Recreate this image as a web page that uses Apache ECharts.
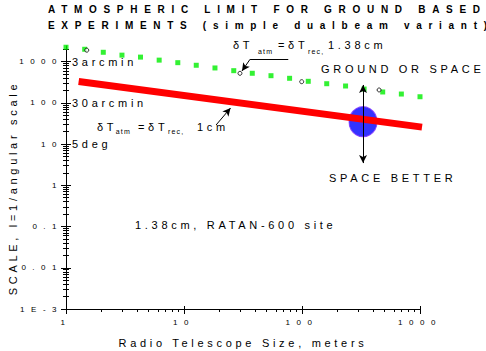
<!DOCTYPE html>
<html>
<head>
<meta charset="utf-8">
<script src="https://cdn.jsdelivr.net/npm/echarts@6/dist/echarts.min.js"></script>
<style>
  html, body { margin: 0; padding: 0; background: #fff; }
  #chart { width: 486px; height: 351px; }
  /* the old plot spreads every letter out */
  #chart text[style*="11px"] { letter-spacing: 3.7px; }
  #chart text[style*="bold"] { letter-spacing: 6.7px; }
  #chart text[style*="8px"] { letter-spacing: 6.5px; }
  #chart text[style*="7px"] { letter-spacing: 1.2px; }
</style>
</head>
<body>
<div id="chart"></div>
<script>
// telescope size (m) and atmospheric limit at 1.38cm (green squares)
const sizes = [1, 1.44, 2.07, 2.98, 4.28, 6.16, 8.86, 12.7, 18.3, 26.4, 37.9, 54.6, 78.5, 113, 162, 234, 336, 483, 695, 1000];
const limit138 = [2240, 2000, 1690, 1440, 1290, 1090, 946, 818, 704, 605, 523, 457, 395, 334, 292, 257, 217, 184, 164, 141];
// limit at 1cm (red band)
const size1cm = [1.28, 1040];
const limit1cm = [330, 25.8];
// small open circles
const circleSize = [1.5, 29.8, 99.4, 450];
const circleScale = [1900, 522, 327, 206];
// RATAN-600 point
const ratanSize = [329];
const ratanScale = [35];

const decadeTicks = [0.001, 0.01, 0.1, 1, 10, 100, 1000];
const yTickLabels = ['1E-3', '0.01', '0.1', '1', '10', '100', '1000'];
const scaleMarks = [1000, 100, 10];
const scaleMarkLabels = ['3arcmin', '30arcmin', '5deg'];
const xTicks = [1, 10, 100, 1000];
const xTickLabels = ['1', '10', '100', '1000'];

const yMinor = [];
for (let k = -3; k <= 3; k++) {
  for (let m = 2; m <= 9; m++) {
    const v = m * Math.pow(10, k);
    if (v < 2400) yMinor.push(v);
  }
}
const xMinor = [];
for (let k = 0; k <= 2; k++) {
  for (let m = 2; m <= 9; m++) xMinor.push(m * Math.pow(10, k));
}

const FONT = '"Liberation Sans", Arial, sans-serif';

function pick(values, labels) {
  return function (v) {
    for (let i = 0; i < values.length; i++) {
      if (Math.abs(Math.log10(v) - Math.log10(values[i])) < 1e-6) return labels[i];
    }
    return '';
  };
}

function yAxisOf(extra) {
  return Object.assign({
    type: 'log', min: 0.001, max: 2400, position: 'left', offset: 0,
    axisLine: { show: false },
    axisLabel: { show: false },
    splitLine: { show: false },
    minorTick: { show: false }
  }, extra);
}
function xAxisOf(extra) {
  return Object.assign({
    type: 'log', min: 1, max: 1000, position: 'bottom', offset: 0,
    axisLine: { show: false },
    axisLabel: { show: false },
    splitLine: { show: false },
    minorTick: { show: false }
  }, extra);
}

function txt(text, x, y, size, align, rotation) {
  return {
    type: 'text', x: x, y: y, rotation: rotation || 0, silent: true,
    style: {
      text: text, fill: '#000', font: size + 'px ' + FONT,
      align: align || 'left', verticalAlign: 'middle',
      textAlign: align || 'left', textVerticalAlign: 'middle'
    }
  };
}

let chart = echarts.init(document.getElementById('chart'), null, { renderer: 'svg' });
chart.setOption({
  animation: false,
  backgroundColor: '#fff',
  title: {
    text: 'ATMOSPHERIC LIMIT FOR GROUND BASED\nEXPERIMENTS (simple dualbeam variant)',
    left: 48,
    top: 2,
    padding: 0,
    textStyle: { fontSize: 10, fontWeight: 'bold', fontFamily: FONT, color: '#000', lineHeight: 15.5 }
  },
  grid: { left: 66, right: 66, top: 46, bottom: 42, containLabel: false, outerBoundsMode: 'none' },
  xAxis: [
    xAxisOf({
      axisLine: { show: true, lineStyle: { color: '#000', width: 1 } },
      axisTick: { show: true, inside: false, length: 5, customValues: xTicks, lineStyle: { color: '#000' } },
      axisLabel: {
        show: true, customValues: xTicks, formatter: pick(xTicks, xTickLabels),
        fontSize: 8, fontFamily: FONT, color: '#000', margin: 9
      },
      name: 'Radio Telescope Size, meters',
      nameLocation: 'middle',
      nameGap: 28,
      nameTextStyle: { fontSize: 11, fontFamily: FONT, color: '#000' }
    }),
    xAxisOf({ axisTick: { show: true, inside: true, length: 3, customValues: xTicks, lineStyle: { color: '#000' } } }),
    xAxisOf({ axisTick: { show: true, inside: false, length: 3, customValues: xMinor, lineStyle: { color: '#000' } } })
  ],
  yAxis: [
    yAxisOf({
      axisLine: { show: true, lineStyle: { color: '#000', width: 1 } },
      axisTick: { show: true, inside: false, length: 5, customValues: decadeTicks, lineStyle: { color: '#000' } },
      axisLabel: {
        show: true, customValues: decadeTicks, formatter: pick(decadeTicks, yTickLabels),
        fontSize: 8, fontFamily: FONT, color: '#000', margin: 3
      }
    }),
    yAxisOf({
      axisTick: { show: true, inside: true, length: 5, customValues: decadeTicks, lineStyle: { color: '#000' } },
      axisLabel: {
        show: true, inside: true, customValues: scaleMarks, formatter: pick(scaleMarks, scaleMarkLabels),
        fontSize: 11, fontFamily: FONT, color: '#000', margin: 6
      }
    }),
    yAxisOf({ axisTick: { show: true, inside: false, length: 3, customValues: yMinor, lineStyle: { color: '#000' } } }),
    yAxisOf({ axisTick: { show: true, inside: true, length: 3, customValues: yMinor, lineStyle: { color: '#000' } } })
  ],
  series: [
    {
      name: 'limit 1.38cm',
      type: 'scatter',
      data: sizes.map((s, i) => [s, limit138[i]]),
      symbol: 'rect',
      symbolSize: 5,
      itemStyle: { color: '#00ee00' },
      silent: true
    },
    {
      name: 'RATAN-600',
      type: 'scatter',
      data: ratanSize.map((s, i) => [s, ratanScale[i]]),
      symbol: 'circle',
      symbolSize: [28, 30],
      itemStyle: { color: '#0000ff', borderColor: '#7a2cff', borderWidth: 1 },
      silent: true
    },
    {
      name: 'limit 1cm',
      type: 'line',
      data: size1cm.map((s, i) => [s, limit1cm[i]]),
      symbol: 'none',
      showSymbol: false,
      clip: false,
      lineStyle: { color: '#ff0000', width: 7, cap: 'butt' },
      silent: true
    },
    {
      name: 'marks',
      type: 'scatter',
      data: circleSize.map((s, i) => [s, circleScale[i]]),
      symbol: 'circle',
      symbolSize: 4,
      itemStyle: { color: '#fff', borderColor: '#000', borderWidth: 1 },
      silent: true,
      markLine: {
        silent: true,
        animation: false,
        symbolSize: [6, 8],
        label: { show: false },
        lineStyle: { color: '#000', width: 1, type: 'solid' },
        emphasis: { disabled: true },
        data: [
          [{ coord: [329, 272], symbol: 'arrow' }, { coord: [329, 3.47], symbol: 'arrow' }],
          [{ coord: [76.5, 1143], symbol: 'none' }, { coord: [36.3, 1143], symbol: 'none' }],
          [{ coord: [36.3, 1143], symbol: 'none' }, { coord: [31, 594], symbol: 'arrow' }],
          [{ coord: [18.7, 29.1], symbol: 'none' }, { coord: [24.8, 75.1], symbol: 'arrow' }]
        ]
      }
    }
  ],
  graphic: [
    txt('SCALE, l=1/angular scale', 13, 188, 11, 'center', Math.PI / 2),
    txt('GROUND OR SPACE', 321, 69, 11),
    txt('SPACE BETTER', 329, 178, 11),
    txt('1.38cm, RATAN-600 site', 135, 225, 11),
    txt('δT', 233, 45, 11),
    txt('atm', 258, 51, 7),
    txt('=δT', 278, 45, 11),
    txt('rec,', 308, 51, 7),
    txt('1.38cm', 328, 45, 11),
    txt('δT', 97, 127, 11),
    txt('atm', 115.7, 131, 7),
    txt('=δT', 138, 127, 11),
    txt('rec,', 168, 131, 7),
    txt('1cm', 197, 127, 11)
  ]
});
window.addEventListener('resize', () => { chart.resize(); });
</script>
</body>
</html>
